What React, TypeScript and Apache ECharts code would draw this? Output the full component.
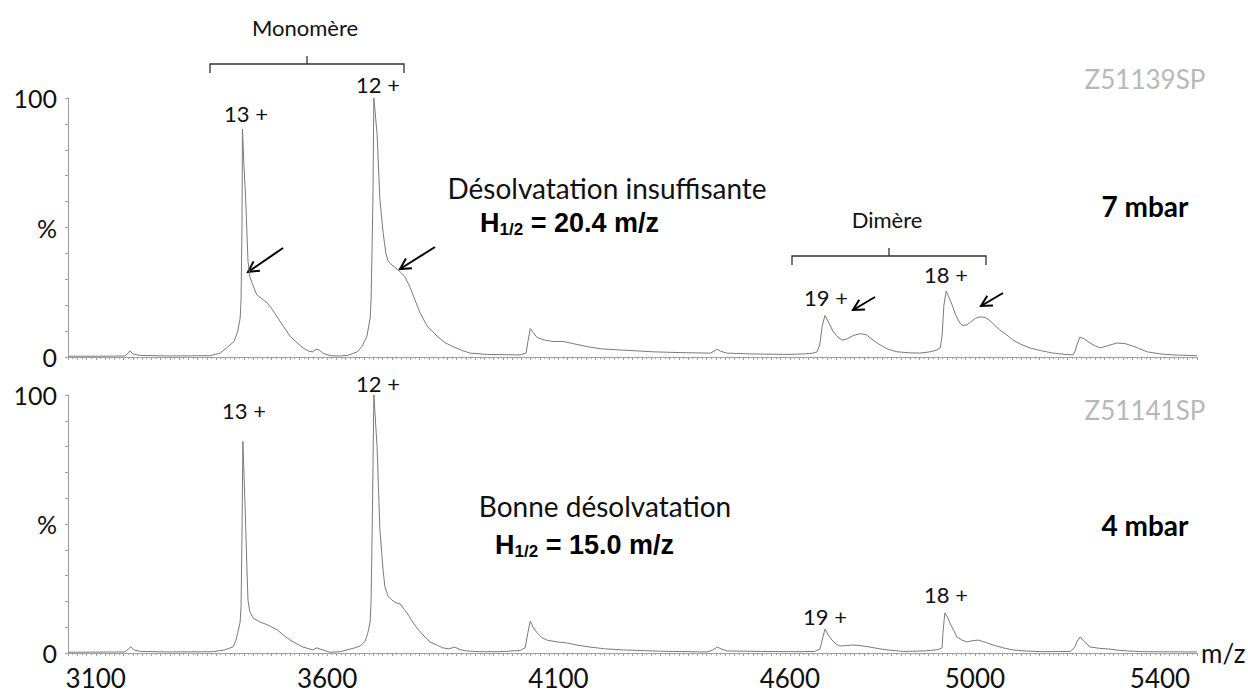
import { useEffect, useRef } from 'react';
import * as echarts from 'echarts';

// ---- data (m/z, relative intensity %) ----
const mzTop = [3040,3109,3163,3170,3174,3180,3196,3260,3347,3369,3386,3399,3407,3412,3414,3416,3417,3420,3424,3429,3433,3438,3448,3459,3470,3481,3492,3505,3520,3535,3548,3561,3569,3576,3582,3591,3606,3628,3643,3654,3665,3675,3686,3693,3695,3697,3699,3701,3708,3714,3721,3727,3732,3740,3751,3760,3768,3779,3790,3801,3816,3838,3855,3872,3892,3909,3946,4017,4030,4034,4039,4045,4054,4071,4088,4110,4136,4162,4190,4233,4276,4304,4363,4428,4436,4443,4451,4464,4514,4594,4633,4650,4659,4665,4670,4676,4685,4693,4702,4713,4724,4737,4752,4765,4773,4784,4795,4812,4832,4860,4881,4903,4918,4925,4929,4933,4938,4944,4951,4959,4968,4974,4983,4994,5002,5011,5022,5033,5043,5054,5069,5082,5098,5119,5141,5169,5195,5212,5216,5221,5227,5236,5249,5260,5270,5286,5307,5324,5335,5352,5372,5400,5428,5480];
const intTop = [0.3,0.3,0.4,1.5,2.4,1.2,0.6,0.4,0.5,1.5,4,6,10,15,22,50,88,75,61,37,31,28.5,24,22.5,21,18.5,15.5,12,8,5.5,3.5,2.2,2,3,2.8,1.5,0.5,0.4,0.6,1.2,2,4,8,15,22,40,61,100,86,61,48,40,37,35.5,34,32.5,31,27,22,17,12,8,5.5,4,2.5,1.5,1,0.8,1.5,6,11,9.5,7.5,6.5,6,6,5,4,3.2,2.7,2.3,2,1.7,1.5,2.2,3,2.2,1.5,1.2,1,1.2,1.5,2,5,12,16,13,10,8,6.5,7,8.3,9,8.6,7.5,6,4.7,3,2,1.6,1.5,2,2.7,3.5,8,20,25.5,23,20,16,13,12.2,12.4,14,15,15.5,15.3,14,12.2,10.4,8.5,6.6,5,3.5,2.5,1.5,1,0.8,2,5,7.7,7,5.4,4.3,3.5,4.3,5.4,5.2,4.6,3.5,2,1.2,0.8,0.5];

const mzBottom = [3040,3163,3170,3176,3183,3196,3260,3353,3379,3397,3403,3407,3412,3414,3416,3418,3423,3427,3429,3433,3440,3455,3470,3481,3492,3505,3520,3535,3548,3569,3578,3585,3606,3628,3643,3660,3671,3682,3688,3693,3695,3698,3701,3708,3714,3721,3725,3732,3740,3749,3758,3766,3773,3783,3794,3807,3822,3838,3850,3863,3876,3887,3902,3930,3974,4017,4028,4034,4039,4045,4054,4064,4075,4097,4118,4142,4168,4201,4240,4319,4421,4432,4443,4453,4464,4536,4622,4654,4665,4670,4676,4683,4691,4700,4708,4721,4737,4756,4773,4795,4810,4845,4892,4920,4929,4931,4935,4942,4946,4955,4961,4972,4983,4996,5007,5022,5039,5061,5082,5108,5147,5206,5216,5221,5227,5236,5249,5270,5292,5309,5329,5363,5480];
const intBottom = [0.3,0.4,1.5,2.4,1.2,0.6,0.4,0.5,1.2,2.4,5,8,12,18,45,82,55,31,20.5,16,13.6,12,11,10,9,7,5,3.5,2.3,1.2,2,1.5,0.3,0.5,1.2,2,2.7,4.5,7.8,12,20,55,100,80,48,32,25.6,22,20.5,19.5,19,17,15.5,12.5,9.7,7,4.3,3,2,1.6,2.3,1.3,0.8,0.5,0.5,1,2,8,12.4,10,7.8,6,5,4.3,3.9,3,2.3,1.6,1.2,0.7,0.4,1,2.3,1.5,0.8,0.6,0.5,0.6,1.5,5,9.3,7,5,3.5,2.7,2.9,3.1,2.8,2.3,1.6,1.2,0.6,0.8,1.3,2,8,15.5,13.5,11.6,8.5,6.2,5,4.3,4.8,5,4.2,3.1,2,1.2,0.8,0.5,0.6,2.3,4.5,6.2,4.5,2.3,1.8,1.5,1.1,0.8,0.5,0.4];

const xTickLabels = [3100, 3600, 4100, 4600, 5000, 5400];
const yTickLabels: Record<number, string> = { 0: '0', 50: '%', 100: '100' };

const CAL = 'Lato, "Open Sans", sans-serif';
const ARIAL = '"Liberation Sans", Arial, sans-serif';

function arrow(x1: number, y1: number, x2: number, y2: number) {
  const ang = Math.atan2(y2 - y1, x2 - x1);
  const L = 12;
  const a = (28 * Math.PI) / 180;
  const p1 = [x2 - L * Math.cos(ang - a), y2 - L * Math.sin(ang - a)];
  const p2 = [x2 - L * Math.cos(ang + a), y2 - L * Math.sin(ang + a)];
  const st = { stroke: '#000', lineWidth: 2, fill: 'none' };
  return [
    { type: 'line', shape: { x1, y1, x2, y2 }, style: st },
    { type: 'polyline', shape: { points: [p1, [x2, y2], p2] }, style: st },
  ];
}

function bracket(x1: number, x2: number, y: number) {
  const st = { stroke: '#333', lineWidth: 1.3, fill: 'none' };
  const mid = (x1 + x2) / 2;
  return [
    { type: 'polyline', shape: { points: [[x1, y + 9], [x1, y], [x2, y], [x2, y + 9]] }, style: st },
    { type: 'line', shape: { x1: mid, y1: y, x2: mid, y2: y - 8 }, style: st },
  ];
}

function txt(text: string, x: number, y: number, size: number, extra: any = {}) {
  return {
    type: 'text',
    x,
    y,
    style: {
      text,
      fontFamily: CAL,
      fontSize: size,
      fill: '#111',
      align: 'center',
      verticalAlign: 'middle',
      ...extra,
    },
  };
}

function hHalf(value: string, x: number, y: number) {
  return {
    type: 'text',
    x,
    y,
    style: {
      text: `{b|H}{s|1/2}{b| = ${value} m/z}`,
      align: 'left',
      verticalAlign: 'middle',
      rich: {
        b: { fontFamily: ARIAL, fontWeight: 'bold', fontSize: 27, fill: '#000', lineHeight: 32 },
        s: { fontFamily: ARIAL, fontWeight: 'bold', fontSize: 17, fill: '#000', lineHeight: 32, padding: [12, 0, 0, 0] },
      },
    },
  };
}

export default function App() {
  const ref = useRef<HTMLDivElement>(null);
  useEffect(() => {
    if (!ref.current) return;
    const chart = echarts.init(ref.current, undefined, { renderer: 'svg' });

    const axisColor = '#a0a0a0';
    const xAxisBase = (gridIndex: number, showLabels: boolean) => ({
      type: 'value',
      gridIndex,
      min: 3040,
      max: 5480,
      interval: 20,
      splitLine: { show: false },
      axisLine: { show: true, lineStyle: { color: axisColor, width: 1 } },
      axisTick: { show: true, length: 3, lineStyle: { color: axisColor } },
      minorTick: { show: true, splitNumber: 2, length: 2, lineStyle: { color: axisColor } },
      axisLabel: showLabels
        ? {
            show: true,
            customValues: xTickLabels,
            formatter: (v: number) => String(v),
            fontFamily: CAL,
            fontSize: 26,
            color: '#111',
            margin: 12,
          }
        : { show: false },
      name: showLabels ? 'm/z' : '',
      nameLocation: 'end',
      nameGap: 4,
      nameTextStyle: { fontFamily: CAL, fontSize: 26, color: '#111' },
    });
    const yAxisBase = (gridIndex: number) => ({
      type: 'value',
      gridIndex,
      min: 0,
      max: 100,
      interval: 50,
      splitLine: { show: false },
      axisLine: { show: true, lineStyle: { color: axisColor, width: 1 } },
      axisTick: { show: true, length: 3, lineStyle: { color: axisColor } },
      minorTick: { show: true, splitNumber: 5, length: 3, lineStyle: { color: axisColor } },
      axisLabel: {
        fontFamily: CAL,
        fontSize: 25,
        color: '#111',
        margin: 11,
        formatter: (v: number) => yTickLabels[v] ?? '',
      },
    });

    const graphic: any[] = [
      txt('Monomère', 305, 27, 22),
      ...bracket(210, 404, 64),
      txt('13 +', 246, 113, 22),
      txt('12 +', 378, 84, 22),
      ...arrow(283, 248, 248, 272),
      ...arrow(435, 247, 400, 269),
      txt('Désolvatation insuffisante', 607, 188, 28),
      hHalf('20.4', 480, 223),
      txt('Dimère', 887, 219, 22),
      ...bracket(792, 986, 256),
      txt('19 +', 826, 297, 22),
      txt('18 +', 946, 274, 22),
      ...arrow(875, 297, 853, 310),
      ...arrow(1003, 293, 981, 306),
      txt('7 mbar', 1145, 206, 28, { fontWeight: 'bold', fill: '#000' }),
      txt('Z51139SP', 1145, 79, 26, { fill: '#b8b8b8' }),
      txt('13 +', 244, 410, 22),
      txt('12 +', 378, 383, 22),
      txt('Bonne désolvatation', 605, 506, 28),
      hHalf('15.0', 495, 545),
      txt('19 +', 825, 616, 22),
      txt('18 +', 946, 594, 22),
      txt('4 mbar', 1145, 525, 28, { fontWeight: 'bold', fill: '#000' }),
      txt('Z51141SP', 1145, 410, 26, { fill: '#b8b8b8' }),
    ];

    chart.setOption({
      animation: false,
      backgroundColor: '#fff',
      grid: [
        { left: 68, right: 51, top: 98, height: 259 },
        { left: 68, right: 51, top: 395, height: 258 },
      ],
      xAxis: [xAxisBase(0, false), xAxisBase(1, true)],
      yAxis: [yAxisBase(0), yAxisBase(1)],
      series: [
        {
          type: 'line',
          xAxisIndex: 0,
          yAxisIndex: 0,
          showSymbol: false,
          lineStyle: { color: '#7a7a7a', width: 1 },
          data: mzTop.map((m, i) => [m, intTop[i]]),
        },
        {
          type: 'line',
          xAxisIndex: 1,
          yAxisIndex: 1,
          showSymbol: false,
          lineStyle: { color: '#7a7a7a', width: 1 },
          data: mzBottom.map((m, i) => [m, intBottom[i]]),
        },
      ],
      graphic,
    });
    return () => chart.dispose();
  }, []);
  return (
    <div
      ref={ref}
      style={{ position: 'fixed', left: 0, top: 0, width: 1248, height: 693, background: '#fff' }}
    />
  );
}
